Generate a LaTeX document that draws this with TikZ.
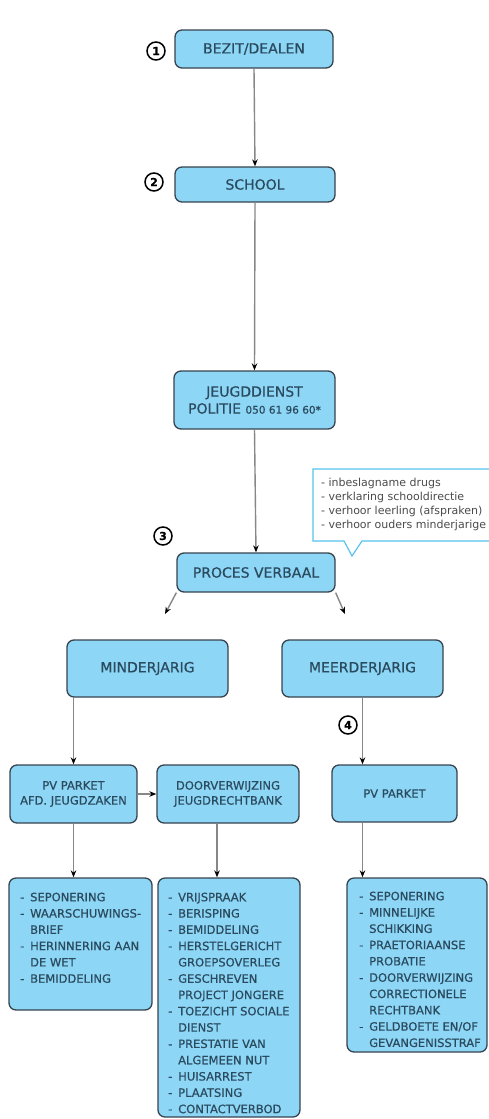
\documentclass[tikz,border=0pt]{standalone}
\usepackage{fontspec}
\setmainfont{DejaVu Sans}[FakeBold=0.6]
\newfontfamily\callfont{DejaVu Sans}
\usetikzlibrary{arrows.meta,calc}
\definecolor{boxfill}{RGB}{141,214,246}
\definecolor{boxline}{RGB}{55,68,78}
\definecolor{boxtext}{RGB}{42,74,94}
\definecolor{conn}{RGB}{135,135,135}
\definecolor{callline}{RGB}{85,195,238}
\definecolor{calltext}{RGB}{75,75,75}
\newcommand{\li}[1]{\makebox[10pt][l]{-}#1}
\newcommand{\lc}[1]{\hspace*{10pt}#1}
\begin{document}
\begin{tikzpicture}[x=1pt,y=-1pt,
  box/.style={draw=boxline, fill=boxfill, line width=1.3pt, rounded corners=7pt, text=boxtext, align=center, inner sep=0pt},
  title/.style={font=\fontsize{14}{17}\selectfont},
  smalltitle/.style={font=\fontsize{11.5}{15}\selectfont},
  listtext/.style={text=boxtext, align=left, inner sep=0pt, anchor=north west, font=\fontsize{11.5}{16.3}\selectfont},
  arr/.style={draw=conn, line width=1.4pt, -{Stealth[length=7pt,width=5.5pt,color=black]}},
  num/.style={circle, draw=black, line width=1.5pt, inner sep=0pt, minimum size=18pt, font=\fontsize{11}{11}\selectfont\bfseries}
]
\useasboundingbox (0,0) rectangle (489,1119);
\clip (0,0) rectangle (489,1119);

% main column
\node[box, title, minimum width=158pt, minimum height=38pt] (bezit) at (254,49) {BEZIT/DEALEN};
\node[box, title, minimum width=160pt, minimum height=35pt] (school) at (255,184.5) {SCHOOL};
\node[box, title, minimum width=161pt, minimum height=58pt] (jeugd) at (254.5,400) {JEUGDDIENST\\POLITIE {\fontsize{10.5}{12}\selectfont 050 61 96 60*}};
\node[box, title, minimum width=158pt, minimum height=39pt] (proces) at (256,572.5) {PROCES VERBAAL};

\node[box, title, minimum width=161pt, minimum height=57pt] (minder) at (147.5,668.5) {MINDERJARIG};
\node[box, title, minimum width=161pt, minimum height=57pt] (meer) at (362.5,668.5) {MEERDERJARIG};

\node[box, smalltitle, minimum width=127pt, minimum height=58pt] (pvafd) at (73.5,794) {PV PARKET\\AFD. JEUGDZAKEN};
\node[box, smalltitle, minimum width=142pt, minimum height=58pt] (doorv) at (228,794) {DOORVERWIJZING\\JEUGDRECHTBANK};
\node[box, smalltitle, minimum width=125pt, minimum height=57pt] (pvr) at (394.5,793.5) {PV PARKET};

% list boxes
\node[box, minimum width=143pt, minimum height=132pt] (l1) at (80.5,944) {};
\node[box, minimum width=142pt, minimum height=239pt] (l2) at (229,997.5) {};
\node[box, minimum width=140pt, minimum height=174pt] (l3) at (417,965) {};

\node[listtext] (t1) at (20,892.5) {\li{SEPONERING}\\\li{WAARSCHUWINGS-}\\\lc{BRIEF}\\\li{HERINNERING AAN}\\\lc{DE WET}\\\li{BEMIDDELING}};
\node[listtext] (t2) at (168,892.5) {\li{VRIJSPRAAK}\\\li{BERISPING}\\\li{BEMIDDELING}\\\li{HERSTELGERICHT}\\\lc{GROEPSOVERLEG}\\\li{GESCHREVEN}\\\lc{PROJECT JONGERE}\\\li{TOEZICHT SOCIALE}\\\lc{DIENST}\\\li{PRESTATIE VAN}\\\lc{ALGEMEEN NUT}\\\li{HUISARREST}\\\li{PLAATSING}\\\li{CONTACTVERBOD}};
\node[listtext] (t3) at (359,891.5) {\li{SEPONERING}\\\li{MINNELIJKE}\\\lc{SCHIKKING}\\\li{PRAETORIAANSE}\\\lc{PROBATIE}\\\li{DOORVERWIJZING}\\\lc{CORRECTIONELE}\\\lc{RECHTBANK}\\\li{GELDBOETE EN/OF}\\\lc{GEVANGENISSTRAF}};

% circled numbers
\node[num] (n1) at (156,51) {1};
\node[num] (n2) at (154,182) {2};
\node[num] (n3) at (163,536) {3};
\node[num] (n4) at (348,725) {4};

% callout
\draw[callline, line width=1.2pt, fill=white] (313,469) -- (500,469) -- (500,541) -- (362,541) -- (352,556) -- (344,541) -- (313,541) -- cycle;
\node[anchor=north west, inner sep=0pt, align=left, text=calltext, font=\callfont\fontsize{11}{14.3}\selectfont] (call) at (321,477.5) {- inbeslagname drugs\\- verklaring schooldirectie\\- verhoor leerling (afspraken)\\- verhoor ouders minderjarige};

% connectors
\draw[arr] (bezit.south) -- (school.north);
\draw[arr] (school.south) -- (jeugd.north);
\draw[arr] (jeugd.south) -- (proces.north);
\coordinate (pl) at (165,614);
\coordinate (pr) at (345,614);
\draw[arr] (proces.south west) -- (pl);
\draw[arr] (proces.south east) -- (pr);
\draw[arr] (pvafd.north |- minder.south) -- (pvafd.north);
\draw[arr] (meer.south) -- (meer.south |- pvr.north);
\draw[arr] (pvafd.east) -- (doorv.west);
\draw[arr] (pvafd.south) -- (pvafd.south |- l1.north);
\coordinate (dx) at (217,0);
\draw[arr] (dx |- doorv.south) -- (dx |- l2.north);
\draw[arr] (meer.south |- pvr.south) -- (meer.south |- l3.north);
\end{tikzpicture}
\end{document}
